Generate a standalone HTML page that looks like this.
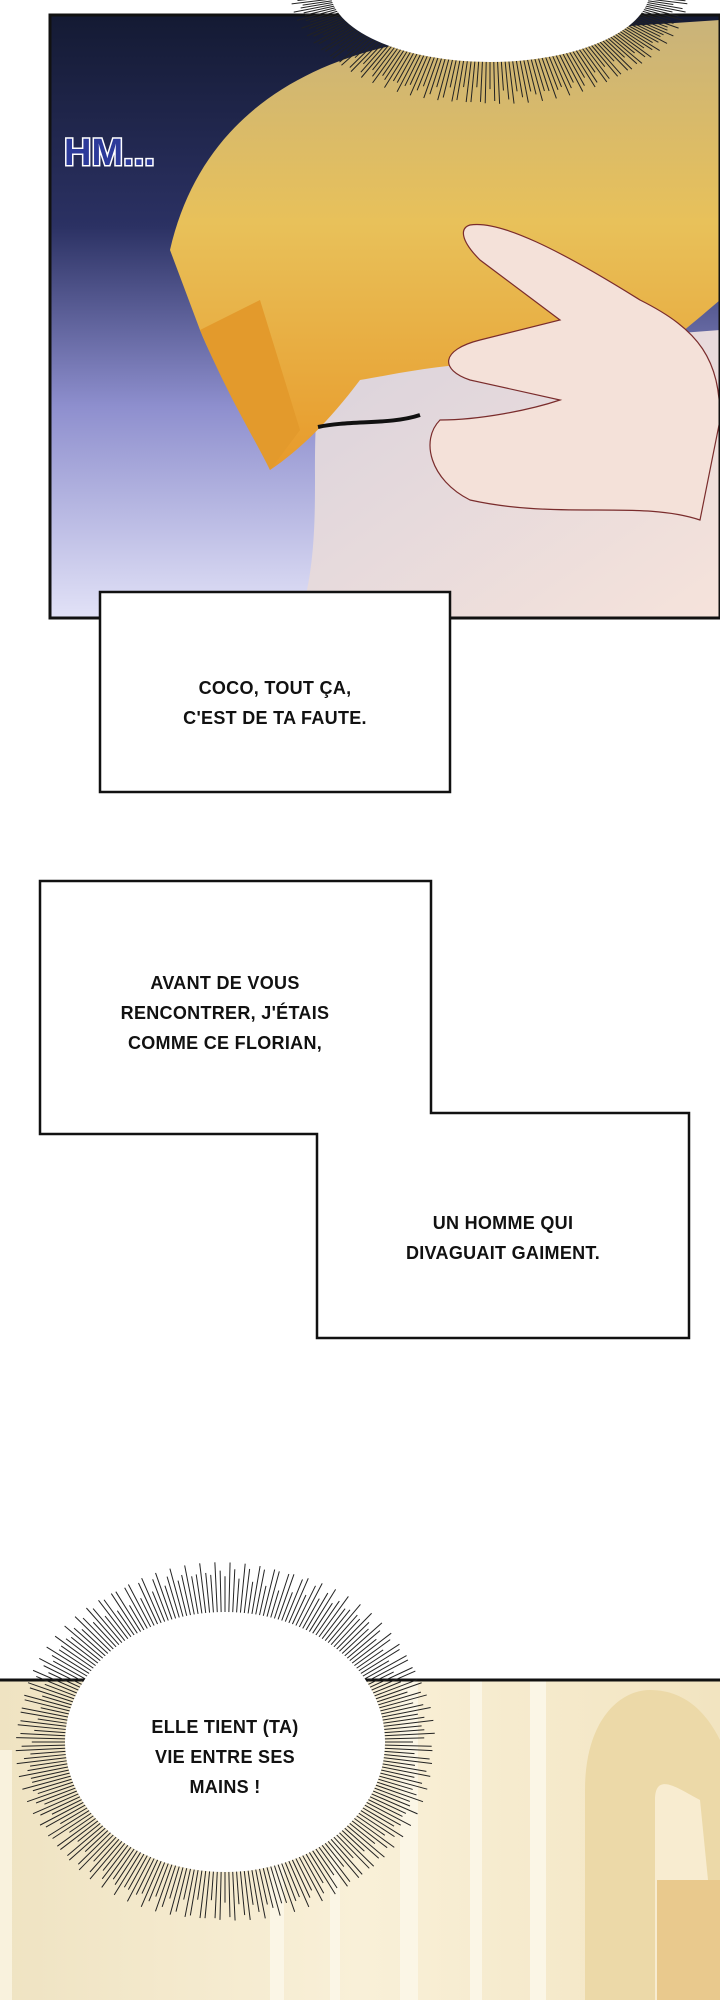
<!DOCTYPE html>
<html><head><meta charset="utf-8">
<style>
html,body{margin:0;padding:0;background:#fff;}
body{width:720px;height:2000px;position:relative;overflow:hidden;font-family:"Liberation Sans",sans-serif;}
.t{position:absolute;text-align:center;font-weight:bold;font-size:18px;color:#111;line-height:30px;letter-spacing:0.3px;}
</style></head><body>
<svg width="720" height="2000" style="position:absolute;left:0;top:0">
<defs>
<linearGradient id="bg1" x1="0" y1="0" x2="0" y2="1">
<stop offset="0" stop-color="#141a33"/><stop offset="0.35" stop-color="#2b3163"/><stop offset="0.65" stop-color="#8e8fce"/><stop offset="1" stop-color="#e2e2f7"/></linearGradient>
<linearGradient id="hair" x1="0" y1="0" x2="0" y2="1">
<stop offset="0" stop-color="#c9b37a"/><stop offset="0.45" stop-color="#e8c15a"/><stop offset="1" stop-color="#e89a2a"/></linearGradient>
<linearGradient id="skin" x1="0" y1="0" x2="1" y2="1">
<stop offset="0" stop-color="#d9d2dc"/><stop offset="1" stop-color="#f6e3db"/></linearGradient>
<linearGradient id="bg2" x1="0" y1="0" x2="1" y2="0">
<stop offset="0" stop-color="#efe3c2"/><stop offset="0.5" stop-color="#f9f0d8"/><stop offset="1" stop-color="#f2e4c0"/></linearGradient>
<clipPath id="c1"><rect x="50" y="15" width="670" height="603"/></clipPath>
<clipPath id="c2"><rect x="0" y="1680" width="720" height="320"/></clipPath>
</defs>
<g clip-path="url(#c1)">
<rect x="50" y="15" width="670" height="603" fill="url(#bg1)"/>
<path d="M300 618 C330 520 300 420 330 360 L720 330 L720 618 Z" fill="url(#skin)"/>
<path d="M170 250 C200 120 300 60 420 40 L720 20 L720 300 C650 360 600 400 560 380 C500 350 420 370 360 380 C330 420 300 450 270 470 C250 420 220 380 200 330 Z" fill="url(#hair)"/>
<path d="M200 330 C230 400 250 430 270 470 L300 430 L260 300 Z" fill="#e39a2c"/>
<path d="M470 225 C500 220 560 250 640 300 C700 330 720 360 720 420 L700 520 C640 500 560 520 470 500 C430 480 420 440 440 420 C480 420 530 410 560 400 L470 380 C440 370 440 350 480 340 L560 320 L480 260 C460 240 460 228 470 225Z" fill="#f4e1d9" stroke="#7a2c2c" stroke-width="1.2"/>
<path d="M318 427 C350 420 390 425 420 415" stroke="#111" stroke-width="4" fill="none"/>
</g>
<rect x="50" y="15" width="670" height="603" fill="none" stroke="#111" stroke-width="3"/>
<g id="topburst"></g>
<ellipse cx="490" cy="-10" rx="160" ry="72" fill="#fff"/>
<g clip-path="url(#c2)">
<rect x="0" y="1680" width="720" height="320" fill="url(#bg2)"/>
<rect x="270" y="1680" width="14" height="320" fill="#fbf6e6"/>
<rect x="330" y="1680" width="10" height="320" fill="#fbf6e6"/>
<rect x="400" y="1680" width="18" height="320" fill="#fbf6e6"/>
<rect x="470" y="1680" width="12" height="320" fill="#fbf6e6"/>
<rect x="530" y="1680" width="16" height="320" fill="#fbf6e6"/>
<path d="M585 2000 L585 1790 C585 1720 620 1690 650 1690 C690 1690 710 1720 720 1740 L720 2000Z" fill="#ecd9a8"/>
<path d="M655 2000 L655 1800 C655 1770 680 1790 700 1800 L720 2000Z" fill="#f8ecd0"/>
<rect x="657" y="1880" width="63" height="120" fill="#e9c98d"/>
<rect x="0" y="1750" width="12" height="250" fill="#f9f2dd"/>
</g>
<line x1="0" y1="1680" x2="720" y2="1680" stroke="#111" stroke-width="3"/>
<g id="botburst"></g>
<ellipse cx="225" cy="1742" rx="160" ry="130" fill="#fff"/>
<rect x="100" y="592" width="350" height="200" fill="#fff" stroke="#111" stroke-width="2.5"/>
<path d="M40 881 L431 881 L431 1113 L689 1113 L689 1338 L317 1338 L317 1134 L40 1134 Z" fill="#fff" stroke="#111" stroke-width="2.5"/>
</svg>
<div style="position:absolute;left:64px;top:132px;font:bold 38px 'Liberation Sans',sans-serif;color:#2c3a9a;-webkit-text-stroke:3px #fff;paint-order:stroke fill;">HM...</div>
<div class="t" style="left:100px;width:350px;top:673px;">COCO, TOUT ÇA,<br>C'EST DE TA FAUTE.</div>
<div class="t" style="left:60px;width:330px;top:968px;">AVANT DE VOUS<br>RENCONTRER, J'ÉTAIS<br>COMME CE FLORIAN,</div>
<div class="t" style="left:317px;width:372px;top:1208px;">UN HOMME QUI<br>DIVAGUAIT GAIMENT.</div>
<div class="t" style="left:65px;width:320px;top:1712px;">ELLE TIENT (TA)<br>VIE ENTRE SES<br>MAINS !</div>
<script>
function burst(id,cx,cy,rx,ry,ext,n){
 var g=document.getElementById(id),s='';
 for(var i=0;i<n;i++){var a=i/n*Math.PI*2,e=ext*(0.6+0.4*Math.abs(Math.sin(i*7.3)));
 var x1=cx+Math.cos(a)*rx,y1=cy+Math.sin(a)*ry,x2=cx+Math.cos(a)*(rx+e),y2=cy+Math.sin(a)*(ry+e);
 s+='<line x1="'+x1+'" y1="'+y1+'" x2="'+x2+'" y2="'+y2+'" stroke="#222" stroke-width="1"/>';}
 g.innerHTML=s;}
burst('topburst',490,-10,155,70,45,260);
burst('botburst',225,1742,155,125,55,260);
</script>
</body></html>
